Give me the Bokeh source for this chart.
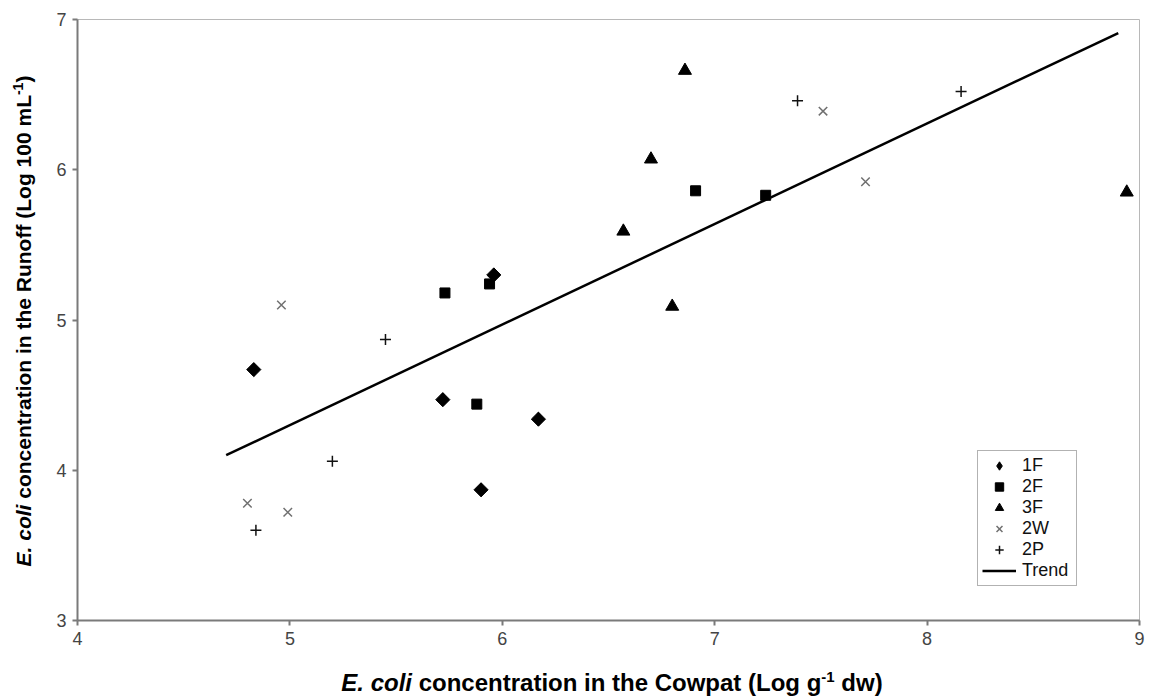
import math
from bokeh.plotting import figure
from bokeh.models import Range1d, Legend, LegendItem, FixedTicker, Div
from bokeh.layouts import row, column
from bokeh.embed import file_html
from bokeh.resources import INLINE

# ---- data ----
f1_x = [4.83, 5.72, 5.96, 5.90, 6.17]
f1_y = [4.67, 4.47, 5.30, 3.87, 4.34]
f2_x = [5.73, 5.94, 5.88, 6.91, 7.24]
f2_y = [5.18, 5.24, 4.44, 5.86, 5.83]
f3_x = [6.86, 6.70, 6.57, 6.80, 8.94]
f3_y = [6.66, 6.07, 5.59, 5.09, 5.85]
w2_x = [4.96, 4.80, 4.99, 7.51, 7.71]
w2_y = [5.10, 3.78, 3.72, 6.39, 5.92]
p2_x = [5.45, 5.20, 4.84, 7.39, 8.16]
p2_y = [4.87, 4.06, 3.60, 6.46, 6.52]
trend_x = [4.70, 8.90]
trend_y = [4.10, 6.91]
x_ticks = [4, 5, 6, 7, 8, 9]
y_ticks = [3, 4, 5, 6, 7]
series_names = ["1F", "2F", "3F", "2W", "2P", "Trend"]
x_title_html = "<i>E. coli</i> concentration in the Cowpat (Log g<sup style=\"font-size:15px\">-1</sup> dw)"
y_title_html = "<i>E. coli</i> concentration in the Runoff (Log 100 mL<sup style=\"font-size:14px\">-1</sup>)"

FONT = "Liberation Sans"
TOTAL_W, TOTAL_H = 1150, 696
YDIV_W = 40
PW, PH = TOTAL_W - YDIV_W, 652
XDIV_H = TOTAL_H - PH
FRAME_L, FRAME_R, FRAME_T, FRAME_B = 77, 1139, 19, 620

p = figure(width=PW, height=PH, output_backend="svg", toolbar_location=None,
           x_range=Range1d(4, 9), y_range=Range1d(3, 7),
           min_border_left=FRAME_L - YDIV_W, min_border_right=TOTAL_W - FRAME_R,
           min_border_top=FRAME_T, min_border_bottom=PH - FRAME_B)
p.background_fill_color = "white"
p.border_fill_color = "white"
p.outline_line_color = "#b8b8b8"
p.outline_line_width = 1
p.xgrid.visible = False
p.ygrid.visible = False

for ax, ticks in ((p.xaxis, x_ticks), (p.yaxis, y_ticks)):
    ax.ticker = FixedTicker(ticks=ticks)
    ax.axis_line_color = "#7a7a7a"
    ax.axis_line_width = 2
    ax.major_tick_line_color = "#7a7a7a"
    ax.major_tick_line_width = 2
    ax.major_tick_out = 5
    ax.major_tick_in = 0
    ax.minor_tick_line_color = None
    ax.major_label_text_font = FONT
    ax.major_label_text_font_size = "18px"
    ax.major_label_text_color = "#444444"
p.yaxis.major_label_standoff = 6
p.xaxis.major_label_standoff = 6

r_trend = p.line(trend_x, trend_y, line_color="black", line_width=2.5)
# narrow diamond (used as the legend swatch) sits fully under the rotated squares
r1_key = p.scatter(f1_x, f1_y, marker="diamond", size=13, color="black")
r1 = p.scatter(f1_x, f1_y, marker="square", size=10, angle=math.pi / 4, color="black")
r2 = p.scatter(f2_x, f2_y, marker="square", size=10, color="black")
r3 = p.scatter(f3_x, f3_y, marker="triangle", size=13, color="black")
r4 = p.scatter(w2_x, w2_y, marker="x", size=12, line_color="#707070", line_width=1.5)
r5 = p.scatter(p2_x, p2_y, marker="cross", size=11, line_color="#111111", line_width=1.5)

legend = Legend(items=[LegendItem(label=n, renderers=[r]) for n, r in
                       zip(series_names, [r1_key, r2, r3, r4, r5, r_trend])],
                location=(977 - FRAME_L, FRAME_B - 586))
legend.label_text_font = FONT
legend.label_text_font_size = "18px"
legend.label_text_color = "#111111"
legend.label_height = 21
legend.glyph_height = 21
legend.glyph_width = 34
legend.label_width = 50
legend.label_standoff = 6
legend.spacing = 0
legend.padding = 4
legend.margin = 0
legend.border_line_color = "#666666"
legend.border_line_width = 1.5
legend.background_fill_alpha = 1
p.add_layout(legend)

span_style = ("position:absolute;white-space:nowrap;font-family:'Liberation Sans',Arial,sans-serif;"
              "font-weight:bold;color:black;line-height:1;")

ydiv = Div(width=YDIV_W, height=PH, margin=0,
           text=(f'<div style="position:relative;width:{YDIV_W}px;height:{PH}px;">'
                 f'<span style="{span_style}font-size:21px;left:22px;top:321px;'
                 f'transform:translate(-50%,-50%) rotate(-90deg);">{y_title_html}</span></div>'))
xdiv = Div(width=TOTAL_W, height=XDIV_H, margin=0,
           text=(f'<div style="position:relative;width:{TOTAL_W}px;height:{XDIV_H}px;">'
                 f'<span style="{span_style}font-size:24px;left:612px;top:{682 - PH}px;'
                 f'transform:translate(-50%,-50%);">{x_title_html}</span></div>'))

layout = column(row(ydiv, p, spacing=0), xdiv, spacing=0)
open("out.html", "w").write(file_html(layout, INLINE))
